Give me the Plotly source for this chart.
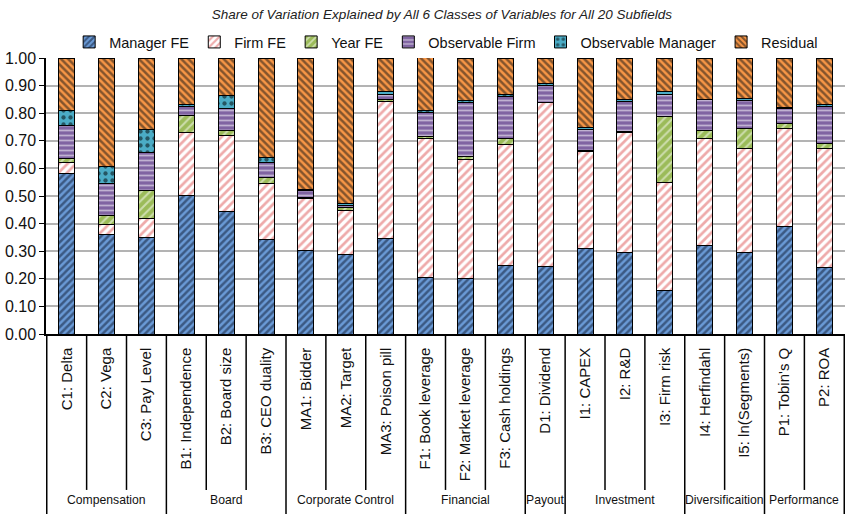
import plotly.graph_objects as go

categories = ["C1: Delta", "C2: Vega", "C3: Pay Level",
              "B1: Independence", "B2: Board size", "B3: CEO duality",
              "MA1: Bidder", "MA2: Target", "MA3: Poison pill",
              "F1: Book leverage", "F2: Market leverage", "F3: Cash holdings",
              "D1: Dividend",
              "I1: CAPEX", "I2: R&D", "I3: Firm risk",
              "I4: Herfindahl", "I5: ln(Segments)",
              "P1: Tobin's Q", "P2: ROA"]

group_names = ["Compensation", "Board", "Corporate Control", "Financial",
               "Payout", "Investment", "Diversificaition", "Performance"]
group_sizes = [3, 3, 3, 3, 1, 3, 2, 2]

manager_fe = [0.580, 0.362, 0.349, 0.502, 0.445, 0.343, 0.301, 0.289, 0.347, 0.206,
              0.201, 0.248, 0.243, 0.310, 0.296, 0.156, 0.319, 0.296, 0.389, 0.242]
firm_fe = [0.040, 0.036, 0.071, 0.228, 0.273, 0.204, 0.189, 0.158, 0.496, 0.504,
           0.433, 0.440, 0.594, 0.350, 0.434, 0.394, 0.391, 0.376, 0.356, 0.430]
year_fe = [0.015, 0.032, 0.101, 0.061, 0.018, 0.020, 0.003, 0.010, 0.008, 0.004,
           0.009, 0.019, 0.002, 0.004, 0.002, 0.238, 0.028, 0.072, 0.019, 0.018]
obs_firm = [0.121, 0.117, 0.138, 0.034, 0.080, 0.056, 0.026, 0.009, 0.017, 0.090,
            0.196, 0.154, 0.063, 0.078, 0.112, 0.081, 0.111, 0.102, 0.052, 0.133]
obs_manager = [0.054, 0.061, 0.083, 0.006, 0.049, 0.018, 0.006, 0.006, 0.011, 0.006,
               0.007, 0.007, 0.006, 0.006, 0.005, 0.010, 0.002, 0.006, 0.006, 0.009]
residual = [0.190, 0.392, 0.258, 0.169, 0.135, 0.359, 0.475, 0.528, 0.121, 0.191,
            0.154, 0.132, 0.092, 0.252, 0.151, 0.121, 0.149, 0.148, 0.178, 0.168]

yticks = [i / 10 for i in range(11)]
ytick_text = ["%.2f" % v for v in yticks]

FONT = "Helvetica, Liberation Sans, Arial, sans-serif"

series = [
    ("Manager FE", manager_fe, dict(shape="/", bgcolor="#6a9ad6", fgcolor="#0c1830", size=5, solidity=0.5)),
    ("Firm FE", firm_fe, dict(shape="/", bgcolor="#ffffff", fgcolor="#dd5555", size=6, solidity=0.45)),
    ("Year FE", year_fe, dict(shape="/", bgcolor="#9bbb59", fgcolor="#ffffff", size=6, solidity=0.35)),
    ("Observable Firm", obs_firm, dict(shape="-", bgcolor="#8064a2", fgcolor="#ffffff", size=5, solidity=0.35)),
    ("Observable Manager", obs_manager, dict(shape=".", bgcolor="#4bacc6", fgcolor="#000000", size=7, solidity=0.3)),
    ("Residual", residual, dict(shape="\\", bgcolor="#f79646", fgcolor="#111111", size=5, solidity=0.5)),
]

fig = go.Figure()
for name, vals, pat in series:
    fig.add_trace(go.Bar(
        x=categories, y=vals, name=name, width=0.4,
        marker=dict(color=pat["bgcolor"], pattern=pat,
                    line=dict(color="#000000", width=1)),
    ))

# separators below the x-axis
shapes = []
bounds = set()
pos = 0
for s in group_sizes:
    bounds.add(pos)
    pos += s
bounds.add(pos)
for k in range(len(categories) + 1):
    is_group = k in bounds
    shapes.append(dict(type="line", xref="x", yref="paper",
                       x0=k - 0.5, x1=k - 0.5, y0=0,
                       y1=-0.66 if is_group else -0.565,
                       line=dict(color="#000000", width=1.5)))

annotations = []
pos = 0
for gname, s in zip(group_names, group_sizes):
    center = pos + (s - 1) / 2
    annotations.append(dict(x=center, y=-0.601, xref="x", yref="paper",
                            text=gname, showarrow=False,
                            font=dict(size=12.2, family=FONT, color="#111111"),
                            xanchor="center", yanchor="middle"))
    pos += s

fig.update_layout(
    width=845, height=514,
    barmode="stack",
    plot_bgcolor="#ffffff", paper_bgcolor="#ffffff",
    margin=dict(l=46, r=0, t=58, b=180, autoexpand=False),
    font=dict(family=FONT, color="#111111"),
    title=dict(text="<i>Share of Variation Explained by All 6 Classes of Variables for All 20 Subfields</i>",
               x=0.523, xanchor="center", xref="container", y=1 - 14 / 514, yanchor="middle",
               font=dict(size=13.5, family=FONT, color="#222222")),
    legend=dict(orientation="h", x=0.528, xanchor="center", xref="container",
                y=1 - 42 / 514, yanchor="middle", yref="container",
                font=dict(size=14.5, family=FONT, color="#111111"),
                traceorder="normal", itemwidth=30),
    shapes=shapes,
    annotations=annotations,
    bargap=0.6,
)
fig.update_yaxes(range=[0, 1.0], tickvals=yticks, ticktext=ytick_text,
                 showgrid=True, gridcolor="#b3b3b3", gridwidth=1.5,
                 showline=True, linecolor="#000000", linewidth=1.5,
                 ticks="outside", ticklen=5, tickcolor="#000000",
                 tickfont=dict(size=16, family=FONT, color="#111111"),
                 zeroline=False, automargin=False)
fig.update_xaxes(type="category", tickangle=-90, showline=True, linecolor="#000000",
                 linewidth=1.5, ticks="", showgrid=False,
                 tickfont=dict(size=15, family=FONT, color="#111111"),
                 ticklabelstandoff=6, automargin=False)

fig.write_html("out.html", config={"displayModeBar": False},
               post_script="document.body.style.margin='0';")
